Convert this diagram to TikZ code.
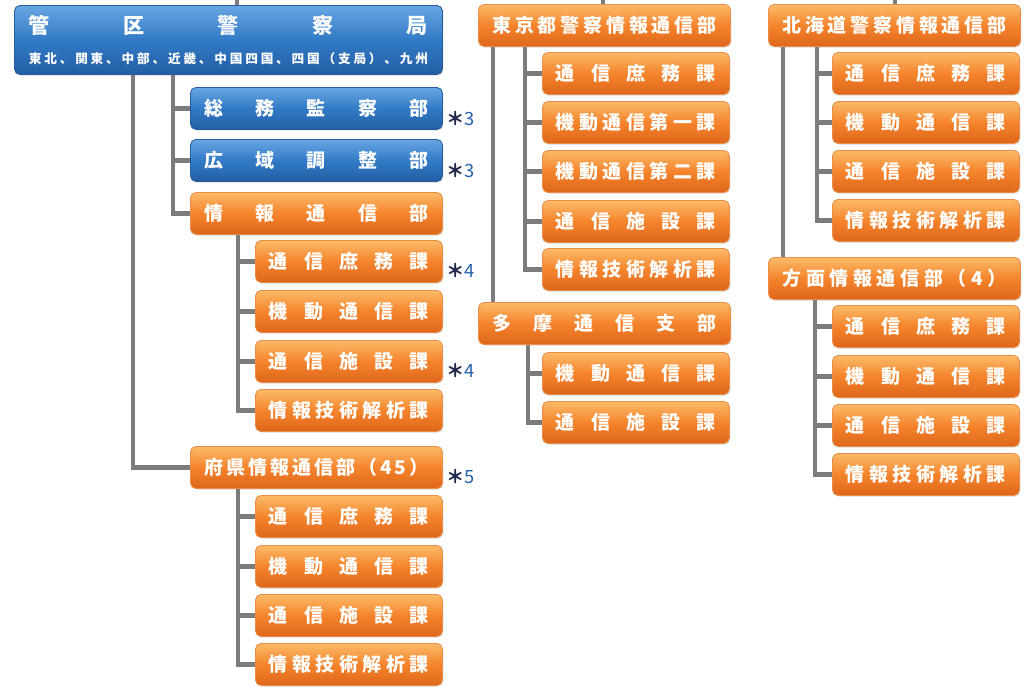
\documentclass[tikz,border=0pt]{standalone}
\usepackage{fontspec}
\usepackage{xcolor}
\usepackage{tikz}
\usetikzlibrary{positioning, calc, shadows}
\setmainfont{Noto Sans CJK JP}
\newfontfamily\jpfont{Noto Sans CJK JP}
\definecolor{orangetop}{RGB}{252, 186, 104}
\definecolor{orangemid}{RGB}{245, 132, 44}
\definecolor{orangebot}{RGB}{222, 102, 26}
\definecolor{orangeedge}{RGB}{232, 142, 72}
\definecolor{bluetop}{RGB}{104, 166, 226}
\definecolor{bluemid}{RGB}{50, 122, 198}
\definecolor{bluebot}{RGB}{34, 94, 164}
\definecolor{blueedge}{RGB}{40, 92, 156}
\definecolor{linegray}{RGB}{124, 124, 124}
\definecolor{notenavy}{RGB}{30, 40, 72}
\definecolor{noteblue}{RGB}{36, 96, 172}

\newcommand{\spreadtext}[2]{\makebox[#1][s]{#2}}

\begin{document}
\begin{tikzpicture}[
    x=0.025cm, y=-0.025cm,
    orgbox/.style={rounded corners=4pt, anchor=north west, text=white, inner sep=0pt, align=center,
        font=\jpfont\bfseries\fontsize{13.5}{15}\selectfont,
        drop shadow={shadow xshift=0.6pt, shadow yshift=-0.8pt, opacity=0.3}},
    bigbox/.style={orgbox, minimum width=6.3cm, minimum height=1.05cm},
    subbox/.style={orgbox, minimum width=4.675cm, minimum height=1.05cm},
    orangefill/.style={draw=orangeedge, line width=0.6pt, top color=orangetop, bottom color=orangebot, middle color=orangemid},
    bluefill/.style={draw=blueedge, line width=0.6pt, top color=bluetop, bottom color=bluebot, middle color=bluemid},
    conn/.style={draw=linegray, line width=3.4pt},
    note/.style={font=\jpfont\fontsize{13}{14}\selectfont, inner sep=0pt, anchor=west}
]
\useasboundingbox (0,0) rectangle (1028,686);

% Left column: regional police bureau
\node[orgbox, bluefill, minimum width=10.7cm, minimum height=1.725cm] (kanku) at (14,5) {
    \fontsize{15}{17}\selectfont\spreadtext{9.975cm}{管 区 警 察 局}\\[6pt]
    \fontsize{9}{10}\selectfont\spreadtext{9.975cm}{東 北 、 関 東 、 中 部 、 近 畿 、 中 国 四 国 、 四 国 （ 支 局 ） 、 九 州}
};
\node[bigbox, bluefill] (somu) at (190,87) {\spreadtext{5.6cm}{総 務 監 察 部}};
\node[bigbox, bluefill] (koiki) at (190,139) {\spreadtext{5.6cm}{広 域 調 整 部}};
\node[bigbox, orangefill] (joho) at (190,192) {\spreadtext{5.6cm}{情 報 通 信 部}};
\node[subbox, orangefill] (j1) at (255,240) {\spreadtext{4cm}{通 信 庶 務 課}};
\node[subbox, orangefill] (j2) at (255,290) {\spreadtext{4cm}{機 動 通 信 課}};
\node[subbox, orangefill] (j3) at (255,340) {\spreadtext{4cm}{通 信 施 設 課}};
\node[subbox, orangefill] (j4) at (255,389) {\spreadtext{4cm}{情 報 技 術 解 析 課}};
\node[bigbox, orangefill] (fuken) at (190,446) {\spreadtext{5.6cm}{府 県 情 報 通 信 部 （ 4 5 ）}};
\node[subbox, orangefill] (f1) at (255,495) {\spreadtext{4cm}{通 信 庶 務 課}};
\node[subbox, orangefill] (f2) at (255,545) {\spreadtext{4cm}{機 動 通 信 課}};
\node[subbox, orangefill] (f3) at (255,594) {\spreadtext{4cm}{通 信 施 設 課}};
\node[subbox, orangefill] (f4) at (255,643) {\spreadtext{4cm}{情 報 技 術 解 析 課}};

% Notes
\node[note, right=0.08cm of somu, yshift=-0.26cm] (n1) {{\bfseries\color{notenavy}＊}{\color{noteblue}3}};
\node[note, right=0.08cm of koiki, yshift=-0.26cm] (n2) {{\bfseries\color{notenavy}＊}{\color{noteblue}3}};
\node[note, right=0.08cm of j1, yshift=-0.22cm] (n3) {{\bfseries\color{notenavy}＊}{\color{noteblue}4}};
\node[note, right=0.08cm of j3, yshift=-0.22cm] (n4) {{\bfseries\color{notenavy}＊}{\color{noteblue}4}};
\node[note, right=0.08cm of fuken, yshift=-0.24cm] (n5) {{\bfseries\color{notenavy}＊}{\color{noteblue}5}};

% Middle column: Tokyo
\node[bigbox, orangefill] (tokyo) at (478,4) {\spreadtext{5.6cm}{東 京 都 警 察 情 報 通 信 部}};
\node[subbox, orangefill] (t1) at (542,52) {\spreadtext{4cm}{通 信 庶 務 課}};
\node[subbox, orangefill] (t2) at (542,101) {\spreadtext{4cm}{機 動 通 信 第 一 課}};
\node[subbox, orangefill] (t3) at (542,150) {\spreadtext{4cm}{機 動 通 信 第 二 課}};
\node[subbox, orangefill] (t4) at (542,200) {\spreadtext{4cm}{通 信 施 設 課}};
\node[subbox, orangefill] (t5) at (542,248) {\spreadtext{4cm}{情 報 技 術 解 析 課}};
\node[bigbox, orangefill] (tama) at (478,302) {\spreadtext{5.6cm}{多 摩 通 信 支 部}};
\node[subbox, orangefill] (m1) at (542,352) {\spreadtext{4cm}{機 動 通 信 課}};
\node[subbox, orangefill] (m2) at (542,401) {\spreadtext{4cm}{通 信 施 設 課}};

% Right column: Hokkaido
\node[bigbox, orangefill] (hokkaido) at (768,4) {\spreadtext{5.6cm}{北 海 道 警 察 情 報 通 信 部}};
\node[subbox, orangefill] (h1) at (832,52) {\spreadtext{4cm}{通 信 庶 務 課}};
\node[subbox, orangefill] (h2) at (832,101) {\spreadtext{4cm}{機 動 通 信 課}};
\node[subbox, orangefill] (h3) at (832,150) {\spreadtext{4cm}{通 信 施 設 課}};
\node[subbox, orangefill] (h4) at (832,199) {\spreadtext{4cm}{情 報 技 術 解 析 課}};
\node[bigbox, orangefill] (homen) at (768,257) {\spreadtext{5.6cm}{方 面 情 報 通 信 部 （ 4 ）}};
\node[subbox, orangefill] (p1) at (832,305) {\spreadtext{4cm}{通 信 庶 務 課}};
\node[subbox, orangefill] (p2) at (832,355) {\spreadtext{4cm}{機 動 通 信 課}};
\node[subbox, orangefill] (p3) at (832,404) {\spreadtext{4cm}{通 信 施 設 課}};
\node[subbox, orangefill] (p4) at (832,453) {\spreadtext{4cm}{情 報 技 術 解 析 課}};

% Stubs from above
\coordinate (kankuTop) at (237,0);
\coordinate (tokyoTop) at (603,0);
\coordinate (hokkaidoTop) at (895,0);
\draw[conn] (kankuTop) -- (kankuTop |- kanku.north);
\draw[conn] (tokyoTop) -- (tokyoTop |- tokyo.north);
\draw[conn] (hokkaidoTop) -- (hokkaidoTop |- hokkaido.north);

% Connecting lines
\draw[conn] ([xshift=2.975cm]kanku.south west) |- (fuken.west);
\foreach \c in {somu, koiki, joho}
    \draw[conn] ([xshift=3.975cm]kanku.south west) |- (\c.west);
\foreach \c in {j1, j2, j3, j4}
    \draw[conn] ([xshift=1.2cm]joho.south west) |- (\c.west);
\foreach \c in {f1, f2, f3, f4}
    \draw[conn] ([xshift=1.2cm]fuken.south west) |- (\c.west);
\draw[conn] ([xshift=0.375cm]tokyo.south west) -- ([xshift=0.375cm]tama.north west);
\foreach \c in {t1, t2, t3, t4, t5}
    \draw[conn] ([xshift=1.175cm]tokyo.south west) |- (\c.west);
\foreach \c in {m1, m2}
    \draw[conn] ([xshift=1.25cm]tama.south west) |- (\c.west);
\draw[conn] ([xshift=0.375cm]hokkaido.south west) -- ([xshift=0.375cm]homen.north west);
\foreach \c in {h1, h2, h3, h4}
    \draw[conn] ([xshift=1.225cm]hokkaido.south west) |- (\c.west);
\foreach \c in {p1, p2, p3, p4}
    \draw[conn] ([xshift=1.175cm]homen.south west) |- (\c.west);

\end{tikzpicture}
\end{document}
